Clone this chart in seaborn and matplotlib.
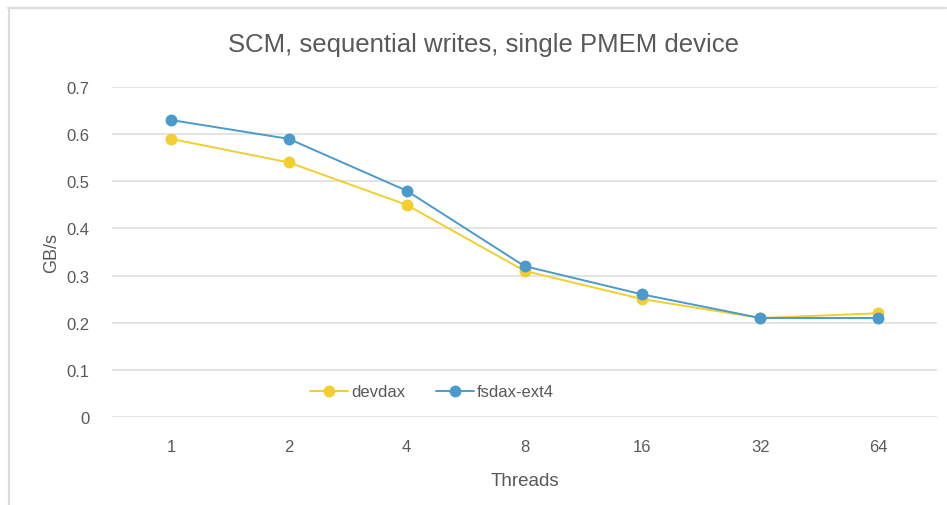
import matplotlib
matplotlib.use("Agg")
import matplotlib.pyplot as plt
from matplotlib.lines import Line2D
import pandas as pd
import seaborn as sns

threads = ["1", "2", "4", "8", "16", "32", "64"]
devdax = [0.59, 0.54, 0.45, 0.31, 0.25, 0.21, 0.22]
fsdax_ext4 = [0.63, 0.59, 0.48, 0.32, 0.26, 0.21, 0.21]
series_names = ["devdax", "fsdax-ext4"]
series_colors = ["#F2CE2F", "#4A9BCB"]
y_ticks = [0, 0.1, 0.2, 0.3, 0.4, 0.5, 0.6, 0.7]
y_tick_labels = ["0", "0.1", "0.2", "0.3", "0.4", "0.5", "0.6", "0.7"]

df = pd.DataFrame({
    "Threads": threads * 2,
    "GB/s": devdax + fsdax_ext4,
    "series": [series_names[0]] * len(threads) + [series_names[1]] * len(threads),
})

sns.set_theme(style="white")
plt.rcParams["font.family"] = ["Liberation Sans", "DejaVu Sans"]

W, H = 947, 506
fig = plt.figure(figsize=(W / 100, H / 100), dpi=100)
ax = fig.add_axes([112 / W, (H - 418) / H, (937 - 112) / W, (418 - 88) / H])

sns.pointplot(
    data=df, x="Threads", y="GB/s", hue="series",
    order=threads, hue_order=series_names, palette=series_colors,
    markers="o", linestyles="-", errorbar=None, ax=ax,
    markersize=7.5, linewidth=1.4, legend=False,
)

ax.set_xlim(-0.5, len(threads) - 0.5)
ax.set_ylim(0, 0.7)
ax.set_yticks(y_ticks)
ax.set_yticklabels(y_tick_labels)
ax.yaxis.grid(True, color="#DCDCDC", linewidth=1.1)
ax.xaxis.grid(False)
ax.set_axisbelow(True)
for s in ax.spines.values():
    s.set_visible(False)
ax.tick_params(axis="both", length=0, labelsize=12, colors="#595959")
ax.tick_params(axis="x", pad=16)
ax.tick_params(axis="y", pad=16)

ax.set_xlabel("Threads", fontsize=13.5, color="#595959", labelpad=13)
ax.set_ylabel("GB/s", fontsize=13, color="#595959", labelpad=5)

fig.text(483 / W, 1 - 45 / H, "SCM, sequential writes, single PMEM device",
         ha="center", va="center", fontsize=18.5, color="#595959")

handles = [Line2D([], [], color=c, marker="o", markersize=7.5, linewidth=1.4)
           for c in series_colors]
ax.legend(handles, series_names, loc="center", bbox_to_anchor=(432 / W, 1 - 393 / H),
          bbox_transform=fig.transFigure, ncol=2, frameon=False, fontsize=12,
          handlelength=2.3, handletextpad=0.2, columnspacing=1.8,
          labelcolor="#595959")

# chart frame edges
fig.add_artist(Line2D([8.5 / W, 8.5 / W], [0, 1 - 9 / H], transform=fig.transFigure,
                      color="#DCDCDC", linewidth=1.6))
fig.add_artist(Line2D([8 / W, 946 / W], [1 - 9 / H, 1 - 9 / H], transform=fig.transFigure,
                      color="#DCDCDC", linewidth=1.6))

fig.savefig("out.png", dpi=100)
